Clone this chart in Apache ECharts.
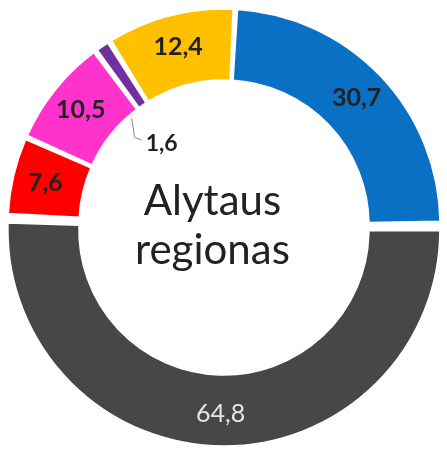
<!DOCTYPE html>
<html>
<head>
<meta charset="utf-8">
<script src="https://cdn.jsdelivr.net/npm/echarts@6/dist/echarts.min.js"></script>
<style>
  html, body { margin: 0; padding: 0; background: #fff; }
  #show { width: 447px; height: 449px; }
</style>
</head>
<body>
<div id="show"></div>
<script>
var names = ['Mėlyna', 'Pilka', 'Raudona', 'Rožinė', 'Violetinė', 'Geltona'];
var values = [30.7, 64.8, 7.6, 10.5, 1.6, 12.4];
var colors = ['#0a70c4', '#474747', '#ff0000', '#ff33cc', '#7030a0', '#ffc000'];
var centerText = 'Alytaus\nregionas';

var myChart = echarts.init(document.getElementById('show'));

var data = [];
for (var i = 0; i < values.length; i++) {
    var item = {
        value: values[i],
        name: names[i],
        itemStyle: { color: colors[i] }
    };
    if (i === 1) {
        item.selected = true;
        item.label = { color: '#e6e6e6', fontWeight: 'normal' };
    }
    if (i === 4) {
        item.label = { position: 'outside', fontSize: 23, fontWeight: 'bold', color: '#222' };
        item.labelLine = { show: true, lineStyle: { color: '#8c8c8c', width: 1 } };
    }
    data.push(item);
}

var option = {
    animation: false,
    graphic: [{
        type: 'text',
        left: 135,
        top: 177,
        style: {
            text: centerText,
            font: '42px Lato',
            fill: '#222',
            textAlign: 'center',
            lineHeight: 49
        }
    }],
    series: [{
        name: 'Alytaus regionas',
        type: 'pie',
        center: [224, 225],
        radius: [145, 216],
        startAngle: 87,
        padAngle: 1.2,
        selectedMode: 'single',
        selectedOffset: 5,
        itemStyle: { borderColor: '#fff', borderWidth: 1.5 },
        label: {
            position: 'inside',
            fontFamily: 'Lato',
            fontSize: 25,
            fontWeight: 'bold',
            color: '#222',
            formatter: function (p) {
                return String(p.value).replace('.', ',');
            }
        },
        labelLayout: function (p) {
            if (p.dataIndex !== 4) return;
            var r = p.rect;
            var sx = r.x + r.width * 0.7;
            var sy = r.y + r.height + 10;
            return {
                x: sx + 14,
                y: sy + 25,
                align: 'left',
                verticalAlign: 'middle',
                fontSize: 23,
                labelLinePoints: [[sx, sy], [sx + 3, sy + 19], [sx + 10, sy + 22]]
            };
        },
        data: data
    }]
};
myChart.setOption(option);
</script>
</body>
</html>
